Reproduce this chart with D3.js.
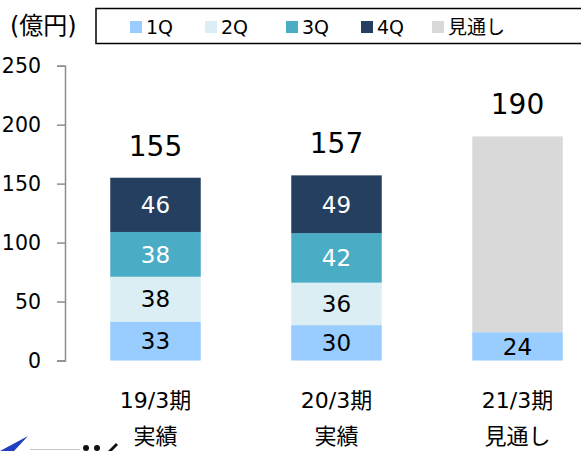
<!DOCTYPE html>
<html><head><meta charset="utf-8">
<script src="https://cdn.jsdelivr.net/npm/d3@7"></script>
<style>html,body{margin:0;padding:0;background:#fff;overflow:hidden}</style>
</head><body>
<svg id="c" width="581" height="451"></svg>
<script>
const categories = ["19/3期", "20/3期", "21/3期"];
const subLabels = ["実績", "実績", "見通し"];
const seriesNames = ["1Q", "2Q", "3Q", "4Q", "見通し"];
const q1 = [33, 30, 24];
const q2 = [38, 36, 0];
const q3 = [38, 42, 0];
const q4 = [46, 49, 0];
const outlook = [0, 0, 166];
const totals = [155, 157, 190];
const yTicks = [0, 50, 100, 150, 200, 250];
const unitLabel = "(億円)";

const colors = ["#99CCFF", "#DAEEF3", "#4BACC6", "#243F60", "#D9D9D9"];
const labelColors = ["#000", "#000", "#fff", "#fff", null];
const FONT = "'DejaVu Sans', 'Noto Sans CJK JP', sans-serif";

const svg = d3.select("#c");
const x = d3.scaleBand().domain(categories).range([65, 608]).paddingInner(0.5).paddingOuter(0.25);
const y = d3.scaleLinear().domain([0, 250]).range([360.5, 65.7]);

const seriesVals = [q1, q2, q3, q4, outlook];
const rows = categories.map((c, i) => {
  const r = {cat: c};
  seriesNames.forEach((s, j) => r[s] = seriesVals[j][i]);
  return r;
});
const stack = d3.stack().keys(seriesNames)(rows);

// axis
const yAxis = d3.axisLeft(y).tickValues(yTicks).tickSize(8).tickSizeOuter(8).tickPadding(16);
const ag = svg.append("g").attr("transform", "translate(65,0)").call(yAxis);
ag.select(".domain").attr("stroke", "#8c8c8c").attr("stroke-width", 1.5);
ag.selectAll(".tick line").attr("stroke", "#8c8c8c").attr("stroke-width", 1.5);
ag.selectAll(".tick text").attr("font-size", 20.5).attr("font-family", FONT).attr("fill", "#000");

// bars
stack.forEach((layer, j) => {
  const g = svg.append("g");
  layer.forEach((d, i) => {
    const v = d[1] - d[0];
    if (v <= 0) return;
    g.append("rect")
      .attr("x", x(categories[i]))
      .attr("width", x.bandwidth())
      .attr("y", y(d[1]))
      .attr("height", y(d[0]) - y(d[1]))
      .attr("fill", colors[j]);
    if (labelColors[j]) {
      g.append("text")
        .attr("x", x(categories[i]) + x.bandwidth() / 2)
        .attr("y", (y(d[0]) + y(d[1])) / 2)
        .attr("dy", "0.36em")
        .attr("text-anchor", "middle")
        .attr("font-size", 23)
        .attr("font-family", FONT)
        .attr("fill", labelColors[j])
        .text(v);
    }
  });
});

// totals and category labels
categories.forEach((c, i) => {
  svg.append("text")
    .attr("x", x(c) + x.bandwidth() / 2)
    .attr("y", y(totals[i]) - 22)
    .attr("text-anchor", "middle")
    .attr("font-size", 28)
    .attr("font-family", FONT)
    .attr("fill", "#000")
    .text(totals[i]);
  svg.append("text")
    .attr("x", x(c) + x.bandwidth() / 2)
    .attr("y", 408)
    .attr("text-anchor", "middle")
    .attr("font-size", 22)
    .attr("font-family", FONT)
    .text(c);
  svg.append("text")
    .attr("x", x(c) + x.bandwidth() / 2)
    .attr("y", 444)
    .attr("text-anchor", "middle")
    .attr("font-size", 22)
    .attr("font-family", FONT)
    .text(subLabels[i]);
});

// unit label
svg.append("text").attr("x", 10).attr("y", 34).attr("font-size", 24).attr("font-family", FONT).text(unitLabel);

// legend
svg.append("rect").attr("x", 96).attr("y", 8.5).attr("width", 520).attr("height", 35)
  .attr("fill", "#fff").attr("stroke", "#000").attr("stroke-width", 1.5);
const legX = [130, 205, 286, 361, 432];
seriesNames.forEach((s, j) => {
  svg.append("rect").attr("x", legX[j]).attr("y", 21).attr("width", 12).attr("height", 12).attr("fill", colors[j]);
  svg.append("text").attr("x", legX[j] + 16).attr("y", 34).attr("font-size", 19)
    .attr("font-family", FONT).text(s);
});

// logo fragment bottom-left
svg.append("path").attr("d", "M0,451 L28,436 L14,451 Z").attr("fill", "#1f3fbf");
svg.append("line").attr("x1", 30).attr("x2", 80).attr("y1", 449.5).attr("y2", 449.5).attr("stroke", "#c8c8c8").attr("stroke-width", 1);
[86, 97].forEach(cx => svg.append("circle").attr("cx", cx).attr("cy", 448).attr("r", 3).attr("fill", "#111"));
svg.append("path").attr("d", "M108,451 L116,443 L118,445 L112,451 Z").attr("fill", "#111");
</script>
</body></html>
